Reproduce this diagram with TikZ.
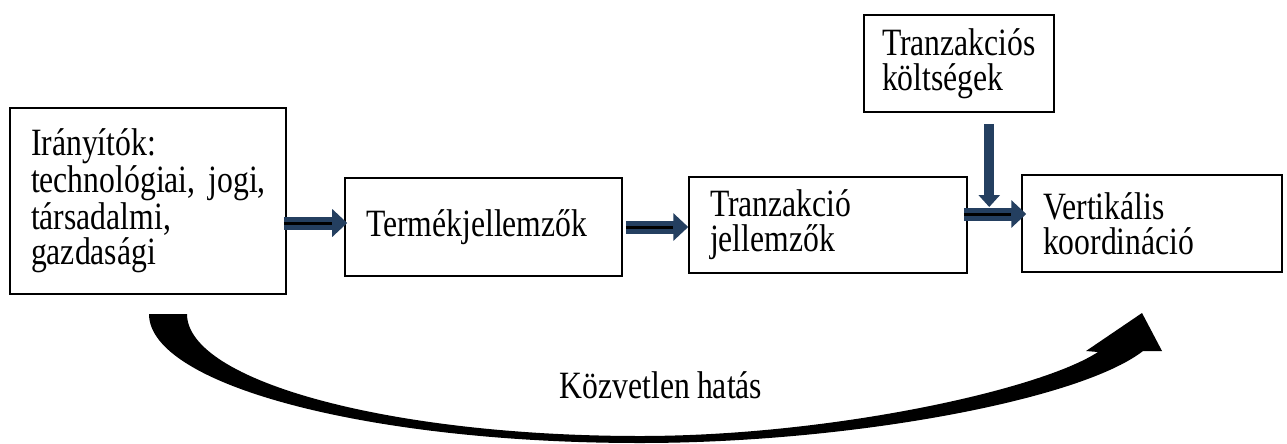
\documentclass[tikz,border=0pt]{standalone}
\usepackage{fontspec}
\setmainfont[FakeStretch=0.82]{Liberation Serif}
\usetikzlibrary{arrows.meta, positioning, calc}
\definecolor{arrowblue}{HTML}{243F60}
\newcommand{\boxfont}{\fontsize{22}{20}\selectfont\frenchspacing\spaceskip=4pt plus 1.5pt minus 1pt\relax}

\begin{document}
\begin{tikzpicture}[
    x=0.02cm, y=0.02cm,
    box/.style={draw, line width=0.9pt, inner xsep=0.42cm, inner ysep=0pt, align=left,
                font=\boxfont},
    arrow/.style={draw=arrowblue, line width=0.26cm, -{Triangle[length=0.3cm, width=0.54cm]},
                  postaction={draw=black, line width=0.06cm, -, shorten >=0.3cm}},
    feed/.style={draw=arrowblue, line width=0.2cm, -{Triangle[length=0.24cm, width=0.42cm]}},
]
\useasboundingbox (0,0) rectangle (1287,-443);

% dobozok
\node[box, text width=4.68cm, minimum height=3.72cm] (drivers) at (148,-201)
    {Irányítók:\\\mbox{technológiai, jogi,}\\társadalmi,\\gazdasági};
\node[box, text width=4.70cm, minimum height=1.96cm] (product) at (483.5,-227)
    {Termékjellemzők};
\node[box, text width=4.72cm, minimum height=1.92cm] (transaction) at (828,-225)
    {Tranzakció\\jellemzők};
\node[box, text width=4.36cm, minimum height=1.94cm] (vertical) at (1152,-223.5)
    {Vertikális\\koordináció};
\node[box, text width=3.08cm, inner xsep=0.36cm, minimum height=1.94cm] (costs) at (959,-63.5)
    {Tranzakciós\\költségek};

% nyilak
\coordinate (merge) at ($(vertical.west)+(-32,9.5)$);
\draw[arrow] ($(drivers.east |- product.west)+(-3,4)$) -- ($(product.west)+(3,4)$);
\draw[arrow] ($(product.east)+(3,0)$) -- (transaction.west |- product.east);
\draw[arrow] ($(transaction.east |- merge)+(-4,0)$) -- ($(vertical.west |- merge)+(5,0)$);
\draw[feed] ($(merge |- costs.south)+(0,-11)$) -- ($(merge)+(0,7)$);

% közvetlen hatás
\fill (149,-314) .. controls (149,-385) and (369,-443) .. (640,-443)
    .. controls (850,-443) and (1080,-400) .. (1143,-351)
    -- (1162,-351) -- (1142,-313) -- (1086,-351) -- (1098,-352)
    .. controls (1040,-390) and (830,-436) .. (640,-436)
    .. controls (390,-436) and (187,-381) .. (187,-314) -- cycle;
\node[font=\boxfont, anchor=base] (direct) at (661,-398) {Közvetlen hatás};

\end{tikzpicture}
\end{document}
